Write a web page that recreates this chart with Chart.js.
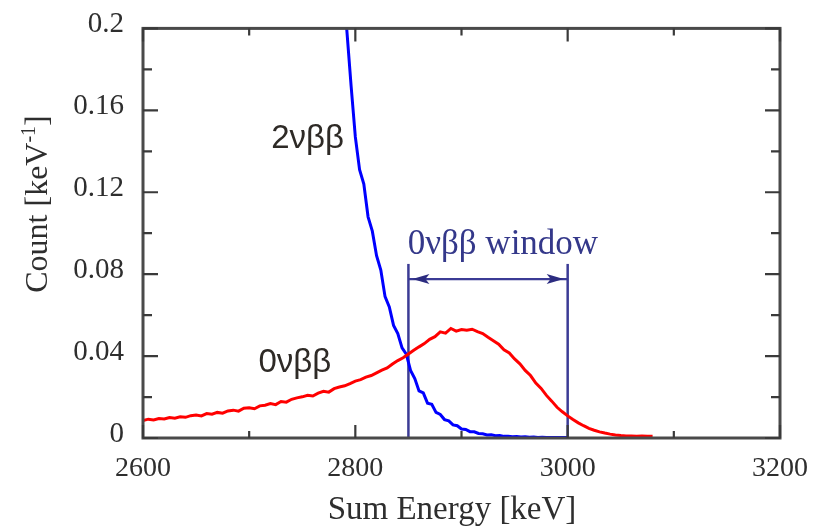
<!DOCTYPE html>
<html><head><meta charset="utf-8">
<script src="https://cdn.jsdelivr.net/npm/chart.js@4/dist/chart.umd.min.js"></script>
<style>html,body{margin:0;padding:0;background:#fff;}#wrap{width:819px;height:527px;}</style>
</head><body><div id="wrap"><canvas id="c" width="819" height="527"></canvas></div>
<script>
// 0νββ spectrum (red)
const redEnergy = [2600,2605,2610,2615,2620,2625,2630,2635,2640,2645,2650,2655,2660,2665,2670,2675,2680,2685,2690,2695,
2700,2705,2710,2715,2720,2725,2730,2735,2740,2745,2750,2755,2760,2765,2770,2775,2780,2785,2790,2795,
2800,2805,2810,2815,2820,2825,2830,2835,2840,2845,2850,2855,2860,2865,2870,2875,2880,2885,2890,2895,
2900,2905,2910,2915,2920,2925,2930,2935,2940,2945,2950,2955,2960,2965,2970,2975,2980,2985,2990,2995,
3000,3005,3010,3015,3020,3025,3030,3035,3040,3045,3050,3055,3060,3065,3070,3075,3080];
const redCounts = [0.0085,0.0092,0.0088,0.0095,0.0093,0.0100,0.0097,0.0104,0.0101,0.0109,0.0112,0.0108,0.0119,0.0116,0.0125,0.0121,0.0132,0.0136,0.0131,0.0145,
0.0148,0.0143,0.0157,0.0160,0.0168,0.0163,0.0178,0.0175,0.0189,0.0196,0.0201,0.0209,0.0205,0.0219,0.0228,0.0224,0.0241,0.0249,0.0255,0.0266,
0.0278,0.0285,0.0297,0.0305,0.0318,0.0331,0.0342,0.0361,0.0378,0.0392,0.0410,0.0428,0.0445,0.0461,0.0482,0.0495,0.0518,0.0512,0.0535,0.0522,
0.0530,0.0526,0.0531,0.0519,0.0510,0.0492,0.0475,0.0458,0.0431,0.0415,0.0386,0.0362,0.0330,0.0305,0.0268,0.0242,0.0208,0.0180,0.0150,0.0128,
0.0108,0.0090,0.0074,0.0060,0.0047,0.0038,0.0030,0.0024,0.0019,0.0015,0.0012,0.0010,0.0010,0.0009,0.0010,0.0009,0.0009];
// 2νββ spectrum (blue)
const blueEnergy = [2784,2788,2792,2796,2800,2804,2808,2812,2816,2820,2824,2828,2832,2836,2840,2844,2848,2852,2856,2860,
2864,2868,2872,2876,2880,2884,2888,2892,2896,2900,2904,2908,2912,2916,2920,2924,2928,2932,2936,2940,
2944,2948,2952,2956,2960,2964,2968,2972,2976,2980,2984,2988,2992,2996,3000];
const blueCounts = [0.242,0.221,0.199,0.172,0.147,0.131,0.124,0.108,0.101,0.089,0.082,0.069,0.064,0.055,0.051,0.044,0.041,0.033,0.029,0.023,
0.022,0.017,0.0165,0.0125,0.0115,0.0090,0.0084,0.0064,0.0060,0.0044,0.0042,0.0031,0.0030,0.0022,0.0021,0.0015,0.0016,0.0011,0.0012,0.0008,
0.0009,0.0006,0.0007,0.0005,0.0006,0.0004,0.0005,0.0003,0.0004,0.0003,0.0003,0.0002,0.0003,0.0002,0.0002];
// window and axes
const windowEdges = [2850, 3000];
const windowTop = 0.085;
const windowArrowLevel = 0.0776;
const xTicks = [2600, 2800, 3000, 3200];
const xMinorTicks = [2700, 2900, 3100];
const yTicks = [0, 0.04, 0.08, 0.12, 0.16, 0.2];
const yMinorTicks = [0.02, 0.06, 0.10, 0.14, 0.18];
const yTickLabels = ['0', '0.04', '0.08', '0.12', '0.16', '0.2'];
const labels = [
  {text: '2νββ', x: 2755, y: 0.146},
  {text: '0νββ', x: 2743, y: 0.0366}
];
const windowLabel = {text: '0νββ window', x: 2939, y: 0.0945};

const SERIF = '"Liberation Serif", "Times New Roman", serif';
const SANS = '"Liberation Sans", Arial, sans-serif';

const toPts = (xs, ys) => xs.map((x, i) => ({x, y: ys[i]}));

const decor = {
  id: 'decor',
  beforeDatasetsDraw(chart) {
    const {ctx, scales: {x, y}} = chart;
    ctx.save();
    ctx.strokeStyle = '#3b3b95';
    ctx.lineWidth = 2.5;
    windowEdges.forEach(e => {
      const px = x.getPixelForValue(e);
      ctx.beginPath();
      ctx.moveTo(px, y.getPixelForValue(0));
      ctx.lineTo(px, y.getPixelForValue(windowTop));
      ctx.stroke();
    });
    const ay = y.getPixelForValue(windowArrowLevel);
    const x1 = x.getPixelForValue(windowEdges[0]);
    const x2 = x.getPixelForValue(windowEdges[1]);
    ctx.lineWidth = 2.4;
    ctx.beginPath(); ctx.moveTo(x1, ay); ctx.lineTo(x2, ay); ctx.stroke();
    ctx.fillStyle = '#2c2c80';
    [[x1 + 4, 1], [x2 - 4, -1]].forEach(([tx, d]) => {
      ctx.beginPath();
      ctx.moveTo(tx, ay);
      ctx.lineTo(tx + d * 17, ay - 5);
      ctx.lineTo(tx + d * 13, ay);
      ctx.lineTo(tx + d * 17, ay + 5);
      ctx.closePath();
      ctx.fill();
    });
    ctx.restore();
  },
  afterDraw(chart) {
    const {ctx, chartArea: a, scales: {x, y}} = chart;
    ctx.save();
    // frame
    ctx.strokeStyle = '#4a4a4a';
    ctx.lineWidth = 3;
    ctx.strokeRect(a.left, a.top, a.right - a.left, a.bottom - a.top);
    ctx.lineWidth = 2.2;
    ctx.strokeStyle = '#3a3a3a';
    const tickX = (v, len) => {
      const px = x.getPixelForValue(v);
      ctx.beginPath();
      ctx.moveTo(px, a.bottom); ctx.lineTo(px, a.bottom - len);
      ctx.moveTo(px, a.top); ctx.lineTo(px, a.top + len);
      ctx.stroke();
    };
    const tickY = (v, len) => {
      const py = y.getPixelForValue(v);
      ctx.beginPath();
      ctx.moveTo(a.left, py); ctx.lineTo(a.left + len, py);
      ctx.moveTo(a.right, py); ctx.lineTo(a.right - len, py);
      ctx.stroke();
    };
    xTicks.forEach(v => tickX(v, 13));
    xMinorTicks.forEach(v => tickX(v, 7));
    yTicks.forEach(v => tickY(v, 15));
    yMinorTicks.forEach(v => tickY(v, 9));
    // annotations
    ctx.fillStyle = '#2e2a26';
    ctx.font = '33px ' + SANS;
    ctx.textAlign = 'center';
    ctx.textBaseline = 'middle';
    labels.forEach(l => ctx.fillText(l.text, x.getPixelForValue(l.x), y.getPixelForValue(l.y)));
    ctx.fillStyle = '#34388a';
    ctx.font = '35px ' + SERIF;
    ctx.fillText(windowLabel.text, x.getPixelForValue(windowLabel.x), y.getPixelForValue(windowLabel.y));
    // axis titles
    ctx.fillStyle = '#2e2e2e';
    ctx.font = '33px ' + SERIF;
    ctx.fillText('Sum Energy [keV]', 452, 510);
    ctx.translate(39, 204);
    ctx.rotate(-Math.PI / 2);
    ctx.textAlign = 'left';
    const main = 'Count [keV';
    ctx.font = '32px ' + SERIF;
    const w1 = ctx.measureText(main).width;
    ctx.font = '20px ' + SERIF;
    const w2 = ctx.measureText('-1').width;
    ctx.font = '32px ' + SERIF;
    const w3 = ctx.measureText(']').width;
    const total = w1 + w2 + w3;
    let sx = -total / 2;
    ctx.fillText(main, sx, 0);
    ctx.font = '20px ' + SERIF;
    ctx.fillText('-1', sx + w1, -9);
    ctx.font = '32px ' + SERIF;
    ctx.fillText(']', sx + w1 + w2, 0);
    ctx.restore();
  }
};

new Chart(document.getElementById('c'), {
  type: 'line',
  data: {
    datasets: [
      {label: '0νββ', data: toPts(redEnergy, redCounts), borderColor: '#ff0000', borderWidth: 3, pointRadius: 0, tension: 0, fill: false},
      {label: '2νββ', data: toPts(blueEnergy, blueCounts), borderColor: '#0000ff', borderWidth: 3, pointRadius: 0, tension: 0, fill: false}
    ]
  },
  options: {
    responsive: false,
    animation: false,
    devicePixelRatio: 1,
    layout: {padding: {left: 0, right: 39, top: 23, bottom: 0}},
    plugins: {legend: {display: false}, tooltip: {enabled: false}},
    scales: {
      x: {
        type: 'linear', min: 2600, max: 3200,
        afterBuildTicks: s => { s.ticks = xTicks.map(v => ({value: v})); },
        ticks: {font: {family: SERIF, size: 28}, color: '#2e2e2e', padding: 6, maxRotation: 0, autoSkip: false,
          callback: v => String(v)},
        grid: {display: false},
        border: {display: false},
        afterFit: s => { s.height = 89; }
      },
      y: {
        min: 0, max: 0.2,
        afterBuildTicks: s => { s.ticks = yTicks.map(v => ({value: v})); },
        ticks: {font: {family: SERIF, size: 29}, color: '#2e2e2e', padding: 11, labelOffset: -4, autoSkip: false,
          callback: (v, i) => yTickLabels[i]},
        grid: {display: false},
        border: {display: false},
        afterFit: s => { s.width = 143; }
      }
    }
  },
  plugins: [decor]
});
</script></body></html>
